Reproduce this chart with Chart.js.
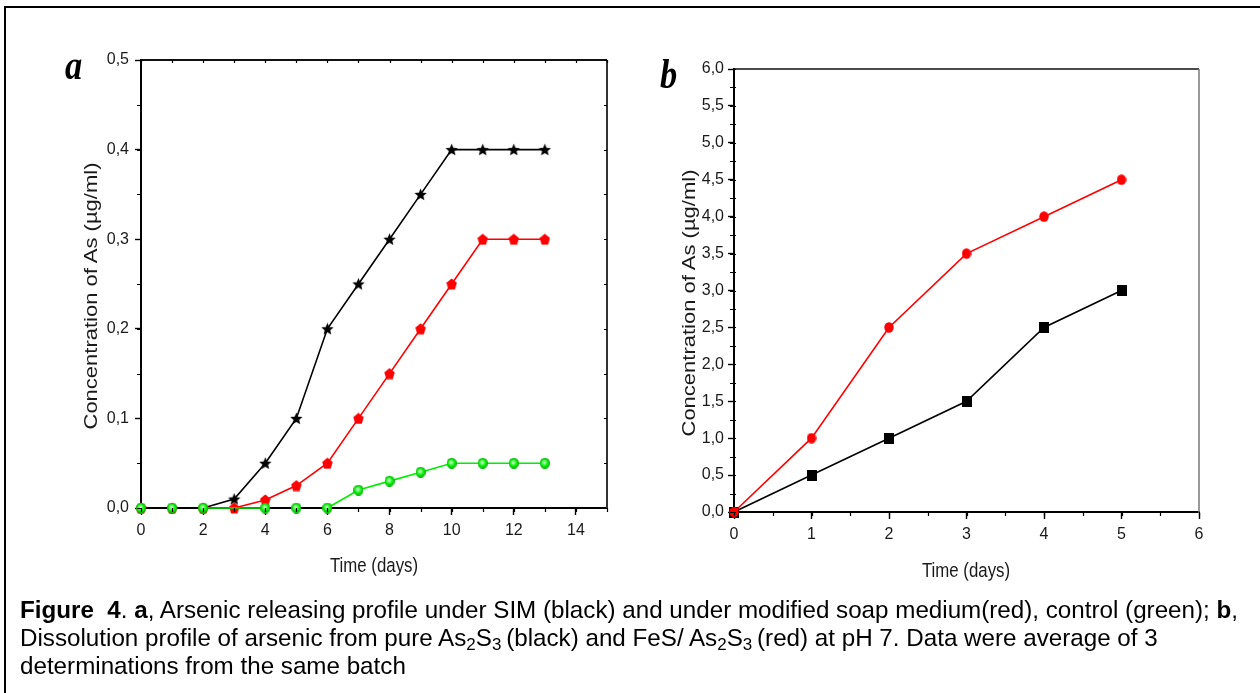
<!DOCTYPE html>
<html lang="en">
<head>
<meta charset="UTF-8">
<title>Figure 4 - Arsenic release profiles</title>
<script src="https://cdn.jsdelivr.net/npm/chart.js"></script>
<style>
  body {
    margin: 0;
    width: 1260px;
    height: 693px;
    overflow: hidden;
    position: relative;
    background: #fff;
    font-family: 'Liberation Sans', Arial, sans-serif;
  }
  .frame {
    position: absolute;
    left: 4px;
    top: 6px;
    width: 1300px;
    height: 800px;
    border: 2px solid #000;
  }
  #chartA { position: absolute; left: 0; top: 0; }
  #chartB { position: absolute; left: 640px; top: 0; }
  .panel-label {
    position: absolute;
    font-family: 'Liberation Serif', 'Times New Roman', serif;
    font-weight: bold;
    font-style: italic;
    font-size: 42px;
    line-height: 1;
    transform: scaleX(0.82);
    transform-origin: left top;
  }
  /* axis titles: the source figure is a bit squeezed horizontally */
  .ytitle, .xtitle {
    position: absolute;
    white-space: nowrap;
    color: #1a1a1a;
    line-height: 1;
  }
  .ytitle {
    font-size: 22px;
    transform: translate(-50%, -50%) rotate(-90deg) scaleY(0.82);
  }
  .xtitle {
    font-size: 20.5px;
    transform: translate(-50%, -50%) scaleX(0.82);
  }
  .caption {
    position: absolute;
    left: 20px;
    top: 596px;
    font-size: 24.2px;
    line-height: 28px;
    white-space: nowrap;
    color: #000;
  }
  .caption sub {
    font-size: 70%;
    line-height: 0;
    vertical-align: -4px;
  }
</style>
</head>
<body>
<div class="frame"></div>
<canvas id="chartA" width="640" height="600"></canvas>
<canvas id="chartB" width="620" height="600"></canvas>
<div class="panel-label" style="left:65px; top:44px;">a</div>
<div class="panel-label" style="left:660px; top:53px;">b</div>
<div class="ytitle" style="left:90.5px; top:296px;">Concentration of As (µg/ml)</div>
<div class="ytitle" style="left:689px; top:303px;">Concentration of As (µg/ml)</div>
<div class="xtitle" style="left:373.5px; top:564.5px;">Time (days)</div>
<div class="xtitle" style="left:966px; top:570px;">Time (days)</div>
<div class="caption">
  <b>Figure&nbsp; 4</b>. <b>a</b>, Arsenic releasing profile under SIM (black) and under modified soap medium(red), control (green); <b>b</b>,<br>
  Dissolution profile of arsenic from pure As<sub>2</sub>S<sub>3</sub>&thinsp;(black) and FeS/ As<sub>2</sub>S<sub>3</sub>&thinsp;(red) at pH 7. Data were average of 3<br>
  determinations from the same batch
</div>

<script>
// panel a: arsenic release (µg/ml) per day
const daysA = [0, 1, 2, 3, 4, 5, 6, 7, 8, 9, 10, 11, 12, 13];
const simBlack = [null, null, 0, 0.01, 0.05, 0.1, 0.2, 0.25, 0.3, 0.35, 0.4, 0.4, 0.4, 0.4];
const soapRed = [0, 0, 0, 0, 0.009, 0.025, 0.05, 0.1, 0.15, 0.2, 0.25, 0.3, 0.3, 0.3];
const controlGreen = [0, 0, 0, null, 0, 0, 0, 0.02, 0.03, 0.04, 0.05, 0.05, 0.05, 0.05];

// panel b: dissolution (µg/ml) per day
const daysB = [0, 1, 2, 3, 4, 5];
const pureBlack = [0, 0.5, 1.0, 1.5, 2.5, 3.0];
const fesRed = [0, 1.0, 2.5, 3.5, 4.0, 4.5];

const tickFont = { family: "'Liberation Sans', Arial, sans-serif", size: 16 };

function pts(xs, ys) {
  return xs.map((x, i) => ({ x: x, y: ys[i] }));
}

// marker images
function marker(w, h, draw) {
  const c = document.createElement('canvas');
  c.width = w; c.height = h;
  draw(c.getContext('2d'), w, h);
  return c;
}
function polygon(g, w, h, n, inner) {
  g.beginPath();
  const steps = inner ? n * 2 : n;
  for (let i = 0; i < steps; i++) {
    const r = inner && i % 2 ? inner : 1;
    const ang = -Math.PI / 2 + i * 2 * Math.PI / steps;
    g.lineTo(w / 2 + Math.cos(ang) * r * w / 2, h / 2 + 0.6 + Math.sin(ang) * r * h / 2);
  }
  g.closePath();
  g.fill();
}
const starMark = marker(13, 13, (g, w, h) => { g.fillStyle = '#000'; polygon(g, w, h, 5, 0.45); });
const pentMark = marker(11, 12, (g, w, h) => { g.fillStyle = '#ff0000'; polygon(g, w, h, 5); });
const ballMark = marker(10, 11, (g, w, h) => {
  const grad = g.createRadialGradient(w * 0.42, h * 0.4, 0.5, w / 2, h / 2, w / 2);
  grad.addColorStop(0, '#d8ffd8');
  grad.addColorStop(0.45, '#22ff22');
  grad.addColorStop(1, '#00b400');
  g.fillStyle = grad;
  g.beginPath();
  g.ellipse(w / 2, h / 2, w / 2, h / 2, 0, 0, Math.PI * 2);
  g.fill();
});
const dotMark = marker(10, 11, (g, w, h) => {
  g.fillStyle = '#ff0000';
  g.beginPath();
  g.ellipse(w / 2, h / 2, w / 2 - 0.3, h / 2 - 0.3, 0, 0, Math.PI * 2);
  g.fill();
});
const squareMark = marker(10, 11, (g, w, h) => { g.fillStyle = '#000'; g.fillRect(0, 0, w, h); });

const comma = v => v.toFixed(1).replace('.', ',');

// minor ticks + top/right frame lines
const axisExtras = {
  id: 'axisExtras',
  afterDraw(chart, args, o) {
    const { ctx, chartArea: a, scales: { x, y } } = chart;
    ctx.save();
    ctx.lineWidth = o.frameWidth;
    ctx.strokeStyle = o.topColor;
    ctx.beginPath();
    ctx.moveTo(a.left, a.top);
    ctx.lineTo(a.right, a.top);
    ctx.stroke();
    ctx.strokeStyle = o.rightColor;
    ctx.beginPath();
    ctx.moveTo(a.right, a.top);
    ctx.lineTo(a.right, a.bottom + 1);
    ctx.stroke();

    ctx.strokeStyle = '#000';
    ctx.lineWidth = 1.2;
    ctx.beginPath();
    for (let v = x.min; v <= x.max + 1e-9; v += o.minorX) {
      const px = Math.round(x.getPixelForValue(v)) + 0.5;
      ctx.moveTo(px, a.bottom);
      ctx.lineTo(px, a.bottom + o.minorLen);
      if (o.mirror) {
        ctx.moveTo(px, a.top);
        ctx.lineTo(px, a.top + 3);
      }
    }
    for (let v = y.min; v <= y.max + 1e-9; v += o.minorY) {
      const py = Math.round(y.getPixelForValue(v)) + 0.5;
      ctx.moveTo(a.left, py);
      ctx.lineTo(a.left - o.minorLen, py);
      if (o.mirror) {
        ctx.moveTo(a.right, py);
        ctx.lineTo(a.right - 3, py);
      } else {
        ctx.moveTo(a.left, py);
        ctx.lineTo(a.left + 2, py);
      }
    }
    ctx.stroke();
    ctx.restore();
  }
};

// segments lying on the x axis are hidden behind it in the source figure
const onAxis = c => (c.p0.parsed.y === 0 && c.p1.parsed.y === 0 ? 'rgba(0,0,0,0)' : undefined);

function lineSet(data, color, mark, hideZero) {
  return {
    data: data,
    borderColor: color,
    borderWidth: 1.6,
    pointStyle: mark,
    pointRadius: hideZero ? (c => (c.raw && c.raw.y === 0 ? 0 : 5)) : 5,
    spanGaps: true,
    clip: false,
    tension: 0,
    segment: { borderColor: onAxis }
  };
}

function makeChart(id, cfg) {
  return new Chart(document.getElementById(id), {
    type: 'line',
    data: { datasets: cfg.datasets },
    options: {
      responsive: false,
      animation: false,
      events: [],
      layout: { padding: cfg.padding },
      plugins: {
        legend: { display: false },
        tooltip: { enabled: false },
        axisExtras: cfg.extras
      },
      scales: {
        x: {
          type: 'linear',
          min: cfg.xMin, max: cfg.xMax,
          afterFit: s => { s.height = cfg.xAxisHeight; },
          border: { color: '#000', width: 2 },
          grid: { drawOnChartArea: false, tickLength: 7, tickColor: '#000', tickWidth: 1.4 },
          ticks: {
            stepSize: cfg.xStep, includeBounds: false, padding: 6,
            color: '#1a1a1a', font: tickFont, maxRotation: 0
          }
        },
        y: {
          type: 'linear',
          min: cfg.yMin, max: cfg.yMax,
          afterFit: s => { s.width = cfg.yAxisWidth; },
          border: { color: '#000', width: 2 },
          grid: { drawOnChartArea: false, tickLength: 6, tickColor: '#000', tickWidth: 1.4 },
          ticks: {
            stepSize: cfg.yStep, padding: cfg.yTickPad,
            color: '#1a1a1a', font: tickFont,
            callback: v => comma(v)
          }
        }
      }
    },
    plugins: [axisExtras]
  });
}

makeChart('chartA', {
  datasets: [
    lineSet(pts(daysA, controlGreen), '#00ee00', ballMark, false),
    lineSet(pts(daysA, soapRed), '#ff0000', pentMark, false),
    lineSet(pts(daysA, simBlack), '#000000', starMark, true)
  ],
  padding: { left: 0, top: 60, right: 33, bottom: 0 },
  xMin: 0, xMax: 15, xStep: 2,
  yMin: 0, yMax: 0.5, yStep: 0.1,
  xAxisHeight: 92, yAxisWidth: 141,
  yTickPad: 6,
  extras: { minorX: 1, minorY: 0.05, minorLen: 4, mirror: true, topColor: '#111', rightColor: '#333', frameWidth: 2 }
});

makeChart('chartB', {
  datasets: [
    lineSet(pts(daysB, fesRed), '#ff0000', dotMark, false),
    lineSet(pts(daysB, pureBlack), '#000000', squareMark, false)
  ],
  padding: { left: 0, top: 69, right: 61, bottom: 0 },
  xMin: 0, xMax: 6, xStep: 1,
  yMin: 0, yMax: 6, yStep: 0.5,
  xAxisHeight: 88, yAxisWidth: 94,
  yTickPad: 4,
  extras: { minorX: 0.5, minorY: 0.25, minorLen: 4, mirror: false, topColor: '#111', rightColor: '#777', frameWidth: 1.5 }
});
</script>
</body>
</html>
